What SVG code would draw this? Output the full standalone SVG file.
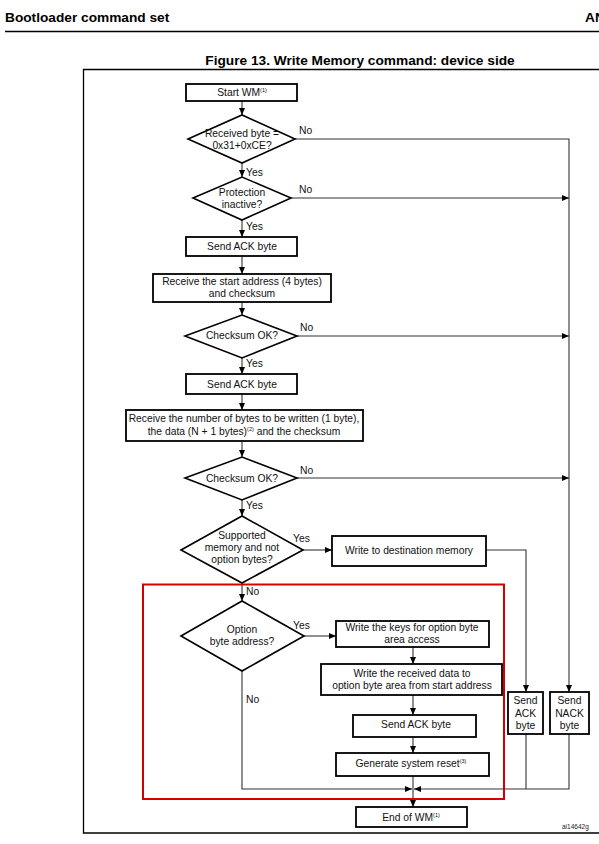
<svg xmlns="http://www.w3.org/2000/svg" width="599" height="844" viewBox="0 0 599 844">
<defs>
<marker id="ah" markerWidth="8" markerHeight="8" refX="7" refY="4" orient="auto" markerUnits="userSpaceOnUse">
<path d="M0,1 L7,4 L0,7 Z" fill="#000"/>
</marker>
<style>
.t{font-family:"Liberation Sans",Arial,sans-serif;font-size:10.3px;fill:#111;text-anchor:middle}
.l{font-family:"Liberation Sans",Arial,sans-serif;font-size:10.3px;fill:#111}
.sup{font-size:5.5px}
.box{fill:#fff;stroke:#000;stroke-width:1.8}
.dia{fill:#fff;stroke:#000;stroke-width:1.6}
.c{fill:none;stroke:#333;stroke-width:1.1}
.ca{fill:none;stroke:#333;stroke-width:1.1;marker-end:url(#ah)}
.hd{font-family:"Liberation Sans",Arial,sans-serif;font-weight:bold;font-size:13.7px;fill:#000}
</style>
</defs>
<rect width="599" height="844" fill="#fff"/>
<text class="hd" x="5" y="22">Bootloader command set</text>
<text class="hd" x="585" y="22">AN</text>
<line x1="5" y1="31.5" x2="599" y2="31.5" stroke="#000" stroke-width="1.5"/>
<text class="hd" x="360" y="65" text-anchor="middle">Figure 13. Write Memory command: device side</text>
<path d="M599,69.5 H83.5 V833 H599" fill="none" stroke="#000" stroke-width="1.3"/>

<g id="connectors">
<line class="ca" x1="242" y1="101" x2="242" y2="115"/>
<line class="ca" x1="242" y1="163" x2="242" y2="177"/>
<line class="ca" x1="242" y1="220" x2="242" y2="237"/>
<line class="ca" x1="242" y1="256" x2="242" y2="274"/>
<line class="ca" x1="242" y1="302" x2="242" y2="315"/>
<line class="ca" x1="242" y1="358" x2="242" y2="374"/>
<line class="ca" x1="242" y1="394" x2="242" y2="410"/>
<line class="ca" x1="242" y1="441" x2="242" y2="457"/>
<line class="ca" x1="242" y1="500" x2="242" y2="516"/>
<line class="ca" x1="242" y1="583" x2="242" y2="601"/>
<path class="ca" d="M295,139 H569 V692"/>
<line class="ca" x1="291" y1="198" x2="569" y2="198"/>
<line class="ca" x1="297" y1="336" x2="569" y2="336"/>
<line class="ca" x1="297" y1="478" x2="569" y2="478"/>
<line class="ca" x1="303" y1="550" x2="332" y2="550"/>
<path class="ca" d="M486,550 H526 V692"/>
<line class="ca" x1="304" y1="636" x2="336" y2="636"/>
<line class="ca" x1="413" y1="647" x2="413" y2="664"/>
<line class="ca" x1="413" y1="695" x2="413" y2="715"/>
<line class="ca" x1="413" y1="737" x2="413" y2="753"/>
<line class="ca" x1="413" y1="776" x2="413" y2="807"/>
<path class="ca" d="M242,671 V789 H412"/>
<path class="ca" d="M569,734 V789 H414"/>
<line class="c" x1="526" y1="734" x2="526" y2="789"/>
</g>

<g id="start">
<rect class="box" x="186" y="84" width="111" height="17"/>
<text class="t" x="242" y="96">Start WM<tspan class="sup" dy="-4">(1)</tspan></text>
</g>
<g id="d_received">
<polygon class="dia" points="188,139 242,115 295,139 242,163"/>
<text class="t" x="242" y="137">Received byte =</text>
<text class="t" x="242" y="149">0x31+0xCE?</text>
</g>
<g id="d_protection">
<polygon class="dia" points="193,198 242,177 291,198 242,220"/>
<text class="t" x="242" y="196">Protection</text>
<text class="t" x="242" y="208">inactive?</text>
</g>
<g id="ack1">
<rect class="box" x="186" y="237" width="111" height="19"/>
<text class="t" x="242" y="250">Send ACK byte</text>
</g>
<g id="recv_addr">
<rect class="box" x="153" y="274" width="178" height="28"/>
<text class="t" x="242" y="285">Receive the start address (4 bytes)</text>
<text class="t" x="242" y="297">and checksum</text>
</g>
<g id="d_checksum1">
<polygon class="dia" points="185,336 242,315 297,336 242,358"/>
<text class="t" x="242" y="339">Checksum OK?</text>
</g>
<g id="ack2">
<rect class="box" x="186" y="374" width="111" height="20"/>
<text class="t" x="242" y="388">Send ACK byte</text>
</g>
<g id="recv_data">
<rect class="box" x="126" y="410" width="237" height="31"/>
<text class="t" x="244" y="422">Receive the number of bytes to be written (1 byte),</text>
<text class="t" x="244" y="435">the data (N + 1 bytes)<tspan class="sup" dy="-4">(2)</tspan><tspan dy="4"> and the checksum</tspan></text>
</g>
<g id="d_checksum2">
<polygon class="dia" points="185,478 242,457 297,478 242,500"/>
<text class="t" x="242" y="482">Checksum OK?</text>
</g>
<g id="d_supported">
<polygon class="dia" points="181,550 242,516 303,550 242,583"/>
<text class="t" x="242" y="539">Supported</text>
<text class="t" x="242" y="551">memory and not</text>
<text class="t" x="242" y="563">option bytes?</text>
</g>
<g id="write_dest">
<rect class="box" x="332" y="536" width="154" height="30"/>
<text class="t" x="409" y="554">Write to destination memory</text>
</g>
<g id="d_option">
<polygon class="dia" points="181,636 242,601 304,636 242,671"/>
<text class="t" x="242" y="633">Option</text>
<text class="t" x="242" y="645">byte address?</text>
</g>
<g id="write_keys">
<rect class="box" x="336" y="621" width="153" height="26"/>
<text class="t" x="412" y="631">Write the keys for option byte</text>
<text class="t" x="412" y="643">area access</text>
</g>
<g id="write_ob">
<rect class="box" x="321" y="664" width="181" height="31"/>
<text class="t" x="412" y="677">Write the received data to</text>
<text class="t" x="412" y="689">option byte area from start address</text>
</g>
<g id="ack3">
<rect class="box" x="353" y="715" width="123" height="22"/>
<text class="t" x="416" y="728">Send ACK byte</text>
</g>
<g id="reset">
<rect class="box" x="336" y="753" width="153" height="23"/>
<text class="t" x="411" y="767">Generate system reset<tspan class="sup" dy="-4">(3)</tspan></text>
</g>
<g id="send_ack">
<rect class="box" x="508" y="692" width="35" height="42"/>
<text class="t" x="525.5" y="704">Send</text>
<text class="t" x="525.5" y="717">ACK</text>
<text class="t" x="525.5" y="729">byte</text>
</g>
<g id="send_nack">
<rect class="box" x="550" y="692" width="39" height="42"/>
<text class="t" x="569.5" y="704">Send</text>
<text class="t" x="569.5" y="717">NACK</text>
<text class="t" x="569.5" y="729">byte</text>
</g>
<g id="end">
<rect class="box" x="356" y="807" width="111" height="20"/>
<text class="t" x="411" y="821">End of WM<tspan class="sup" dy="-4">(1)</tspan></text>
</g>

<g id="labels">
<text class="l" x="299" y="134">No</text>
<text class="l" x="246" y="176">Yes</text>
<text class="l" x="299" y="193">No</text>
<text class="l" x="246" y="230">Yes</text>
<text class="l" x="300" y="331">No</text>
<text class="l" x="246" y="367">Yes</text>
<text class="l" x="300" y="474">No</text>
<text class="l" x="246" y="509">Yes</text>
<text class="l" x="293" y="542">Yes</text>
<text class="l" x="246" y="595">No</text>
<text class="l" x="293" y="629">Yes</text>
<text class="l" x="246" y="703">No</text>
<text x="562" y="829" style="font-family:'Liberation Sans',Arial,sans-serif;font-size:6.5px;fill:#222">ai14642g</text>
</g>

<rect x="143" y="584.5" width="361" height="214.5" fill="none" stroke="#d40000" stroke-width="2"/>
</svg>
